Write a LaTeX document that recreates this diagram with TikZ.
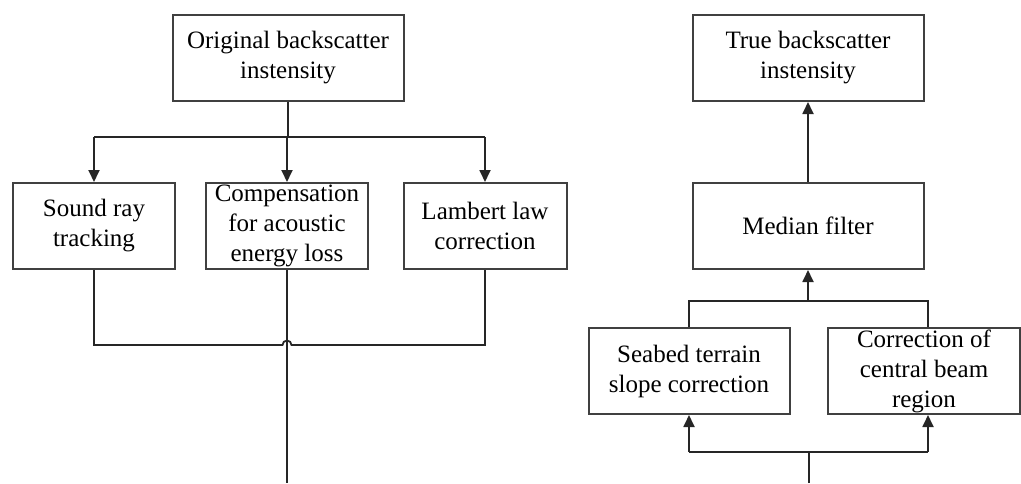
\documentclass[tikz,border=0pt]{standalone}
\usepackage{fontspec}
\setmainfont{Liberation Serif}
\usetikzlibrary{arrows.meta}
\begin{document}
\begin{tikzpicture}[x=1pt,y=-1pt,
  box/.style={draw=black!75, line width=2pt, inner sep=0pt, align=center,
    font=\fontsize{25}{30}\selectfont, text=black},
  conn/.style={draw=black!85, line width=1.8pt},
  arr/.style={conn, -{Triangle[length=12pt,width=11pt]}}]
\useasboundingbox (0,0) rectangle (1021,483);
% left side
\node[box, minimum width=231pt, minimum height=86pt] (orig) at (288,58) {Original backscatter\\instensity};
\node[box, minimum width=162pt, minimum height=86pt] (sound) at (94,226) {Sound ray\\tracking};
\node[box, minimum width=162pt, minimum height=86pt] (comp) at (287,226) {Compensation\\for acoustic\\energy loss};
\node[box, minimum width=163pt, minimum height=86pt] (lamb) at (485,226) {Lambert law\\correction};
% right side
\node[box, minimum width=231pt, minimum height=86pt] (true) at (808,58) {True backscatter\\instensity};
\node[box, minimum width=231pt, minimum height=86pt] (median) at (808,226) {Median filter};
\node[box, minimum width=201pt, minimum height=86pt] (seabed) at (689,371) {Seabed terrain\\slope correction};
\node[box, minimum width=192pt, minimum height=86pt] (central) at (924,371) {Correction of\\central beam\\region};
% left connectors
\coordinate (j1) at (288,137);
\coordinate (j2) at (287,345);
\coordinate (endL) at (287,483);
\draw[conn] (orig.south) -- (j1);
\draw[conn] (j1 -| sound) -- (j1 -| lamb);
\draw[arr] (j1 -| sound) -- (sound.north);
\draw[arr] (j1 -| comp) -- (comp.north);
\draw[arr] (j1 -| lamb) -- (lamb.north);
\draw[conn] (sound.south) -- (sound.south |- j2) -- ([xshift=-4.5pt]j2) arc (180:0:4.5pt) -- (j2 -| lamb) -- (lamb.south);
\draw[conn] (comp.south) -- (endL);
% right connectors
\coordinate (j3L) at (689,301);
\coordinate (j3R) at (928,301);
\coordinate (j4L) at (689,452);
\coordinate (j4R) at (928,452);
\coordinate (endR) at (809,483);
\draw[arr] (median.north) -- (true.south);
\draw[conn] (j3L |- seabed.north) -- (j3L) -- (j3R) -- (j3R |- central.north);
\draw[arr] (j3L -| median) -- (median.south);
\draw[conn] (endR) -- (endR |- j4L);
\draw[conn] (j4L) -- (j4R);
\draw[arr] (j4L) -- (j4L |- seabed.south);
\draw[arr] (j4R) -- (j4R |- central.south);
\end{tikzpicture}
\end{document}
